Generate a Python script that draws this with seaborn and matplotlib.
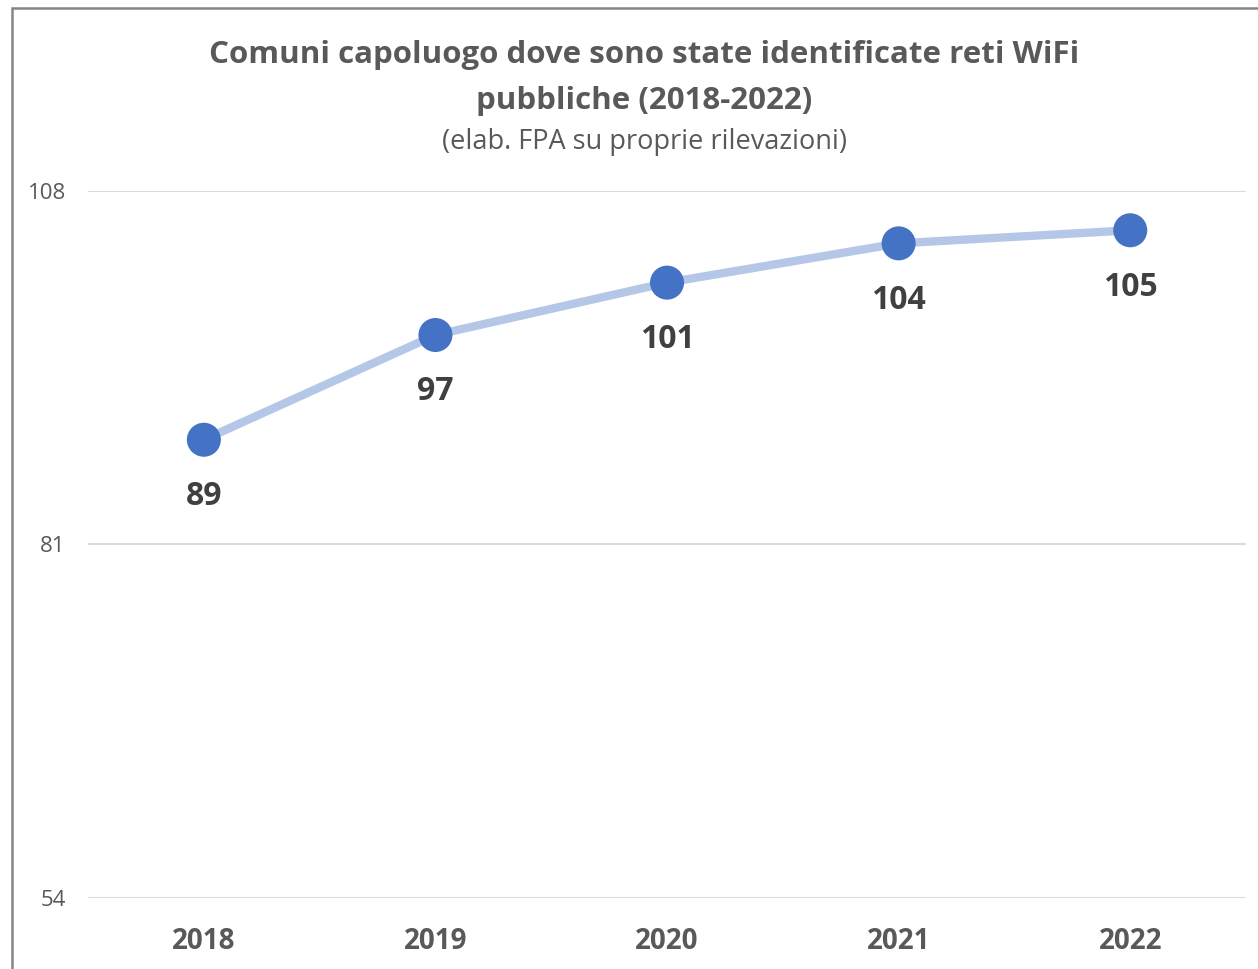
import matplotlib
matplotlib.use("Agg")
import seaborn as sns
import pandas as pd
from matplotlib import pyplot as plt
from matplotlib.patches import Rectangle

# data
years = ['2018', '2019', '2020', '2021', '2022']
comuni = [89, 97, 101, 104, 105]
y_ticks = [54, 81, 108]

df = pd.DataFrame({'anno': years, 'comuni': comuni})

sns.set_style('white')
plt.rcParams['font.family'] = ['Open Sans', 'DejaVu Sans']

fig = plt.figure(figsize=(12.58, 9.69), dpi=100)
ax = fig.add_axes([0.0700, 0.0733, 0.9205, 0.7296])

sns.lineplot(data=df, x='anno', y='comuni', ax=ax, color='#B4C7E7', linewidth=6, sort=False)
sns.scatterplot(data=df, x='anno', y='comuni', ax=ax, color='#4472C4', s=600, edgecolor='none', zorder=3)

# value labels below the points
for yr, v in zip(years, comuni):
    ax.annotate(str(v), (yr, v), xytext=(0, -41), textcoords='offset points',
                ha='center', va='center', fontsize=23, fontweight='bold', color='#404040')

ax.set_xlim(-0.5, len(years) - 0.5)
ax.set_ylim(y_ticks[0], y_ticks[-1])
ax.set_yticks(y_ticks)
ax.yaxis.grid(True, color='#D9D9D9', linewidth=1.5)
ax.set_axisbelow(True)
for s in ax.spines.values():
    s.set_visible(False)
ax.set_xlabel('')
ax.set_ylabel('')
ax.tick_params(axis='y', length=0, labelsize=16, labelcolor='#595959', pad=16)
ax.tick_params(axis='x', length=0, labelsize=20, labelcolor='#595959', pad=21)
for lbl in ax.get_xticklabels():
    lbl.set_fontweight('bold')
ax.patch.set_alpha(0)

# titles
fig.text(0.512, 1 - 55 / 969, 'Comuni capoluogo dove sono state identificate reti WiFi',
         ha='center', va='center', fontsize=22.5, fontweight='bold', color='#595959')
fig.text(0.512, 1 - 101 / 969, 'pubbliche (2018-2022)',
         ha='center', va='center', fontsize=22.5, fontweight='bold', color='#595959')
fig.text(0.512, 1 - 142 / 969, '(elab. FPA su proprie rilevazioni)',
         ha='center', va='center', fontsize=19.5, color='#595959')

# outer frame (cut off at right and bottom)
fig.patches.append(Rectangle((12 / 1258, -0.1), 1.2, 1.1 - 8 / 969, transform=fig.transFigure,
                             fill=False, edgecolor='#868686', linewidth=1.8))

fig.savefig('out.png', dpi=100)
